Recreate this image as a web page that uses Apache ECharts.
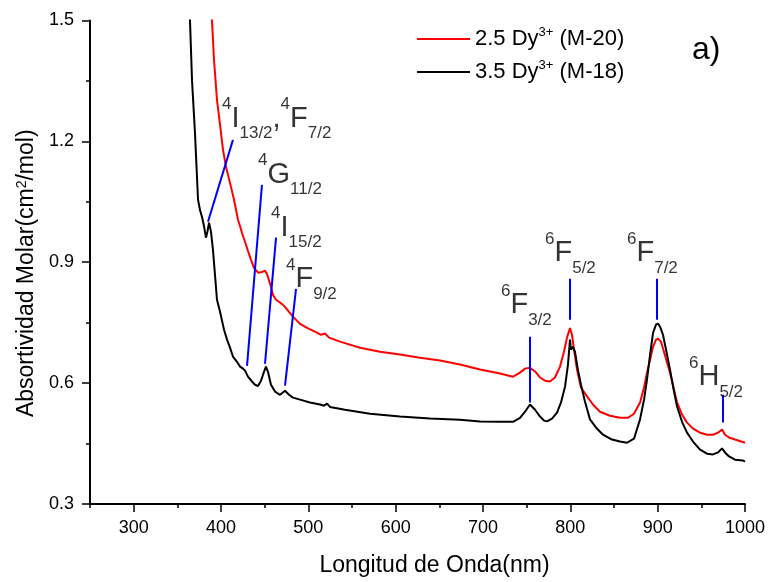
<!DOCTYPE html>
<html>
<head>
<meta charset="utf-8">
<script src="https://cdn.jsdelivr.net/npm/echarts@6/dist/echarts.min.js"></script>
<style>html,body{margin:0;padding:0;background:#fff}#c{width:769px;height:582px}</style>
</head>
<body>
<div id="c"></div>
<script>
// ---- data ----
var seriesNames = ['2.5 Dy3+ (M-20)', '3.5 Dy3+ (M-18)'];

var redWl  = [388.5,389.7,392,395.4,398.9,402.3,405.7,410.3,414.9,419.5,421.8,424.0,427.5,430.9,434.4,437.8,442.4,447.0,450.4,452.7,456.1,459.5,463.0,467.6,472.1,476.7,482.4,490.5,498.5,507.6,514.5,519.1,523.7,536.3,559.2,582.1,605,627.9,650.8,673.7,696.6,719.5,734.4,742.4,748.1,753.8,759.6,765.3,771,776.7,782.4,788.2,792.7,796.2,799.6,801.9,804.2,807.6,812.2,819.1,825.9,833.9,845.4,856.9,866.1,872.9,879.8,884.4,887.8,891.3,894.7,898.1,900.4,903.8,907.2,910.7,914.1,918.7,922.2,927.9,933.6,940.5,948.5,956.5,963.4,969.1,973.7,977.1,981.7,988.6,1000];
var redAbs = [1.54,1.50,1.402,1.303,1.241,1.179,1.137,1.097,1.055,1.005,0.990,0.973,0.951,0.928,0.906,0.886,0.874,0.876,0.879,0.871,0.847,0.819,0.807,0.800,0.792,0.780,0.765,0.747,0.737,0.728,0.720,0.723,0.713,0.703,0.688,0.678,0.671,0.663,0.656,0.646,0.634,0.624,0.616,0.626,0.636,0.638,0.629,0.614,0.606,0.604,0.614,0.641,0.678,0.713,0.737,0.720,0.683,0.634,0.589,0.567,0.547,0.529,0.519,0.514,0.514,0.524,0.552,0.589,0.626,0.658,0.690,0.708,0.710,0.703,0.678,0.651,0.626,0.584,0.552,0.522,0.502,0.487,0.477,0.472,0.472,0.477,0.485,0.472,0.465,0.460,0.452];

var blackWl  = [361.1,364.5,366.8,370.2,373.7,375.9,378.2,380.5,382.8,384.5,386.3,388.5,390.8,393.1,395.4,398.9,403.4,406.9,410.3,413.7,418.3,421.8,425.2,427.5,430.9,435.5,438.9,442.4,445.8,449.2,451.5,453.8,457.2,461.8,467.6,473.3,477.9,482.4,490.5,501.9,513.4,518,521.4,524.8,542,570.6,605,639.3,673.7,696.6,719.5,734.4,742.4,748.1,753.8,759.6,765.3,769.9,773.3,779,784.8,789.3,793.9,797.3,799.6,800.7,803,805.3,808.7,812.2,816.8,822.5,829.3,837.4,847.7,856.9,864.9,872.9,879.8,884.4,887.8,891.3,894.7,898.1,900.4,902.7,906.1,909.6,914.1,918.7,922.2,927.9,933.6,940.5,948.5,956.5,963.4,969.1,973.7,977.1,981.7,988.6,997.7,1000];
var blackAbs = [1.65,1.50,1.352,1.221,1.055,1.030,1.013,0.990,0.961,0.976,0.998,0.976,0.931,0.869,0.807,0.777,0.733,0.708,0.688,0.666,0.653,0.641,0.636,0.631,0.616,0.604,0.596,0.593,0.606,0.628,0.641,0.628,0.596,0.579,0.571,0.581,0.571,0.564,0.559,0.552,0.547,0.544,0.549,0.541,0.534,0.524,0.517,0.512,0.509,0.505,0.504,0.504,0.514,0.529,0.547,0.534,0.517,0.507,0.505,0.512,0.527,0.552,0.591,0.646,0.708,0.683,0.690,0.678,0.633,0.596,0.554,0.510,0.490,0.472,0.460,0.455,0.452,0.462,0.510,0.559,0.609,0.671,0.725,0.745,0.748,0.740,0.720,0.683,0.634,0.579,0.542,0.504,0.477,0.455,0.435,0.425,0.423,0.428,0.438,0.428,0.418,0.410,0.408,0.405];

var xTickLabels = [300,400,500,600,700,800,900,1000];
var xMinorTicks = [250,350,450,550,650,750,850,950];
var yTickLabels = [0.3,0.6,0.9,1.2,1.5];
var yMinorTicks = [0.45,0.75,1.05,1.35];

// transition annotations: [sup, letter, sub] terms
var annotTerms = [
  [['4','I','13/2'],['4','F','7/2']],
  [['4','G','11/2']],
  [['4','I','15/2']],
  [['4','F','9/2']],
  [['6','F','3/2']],
  [['6','F','5/2']],
  [['6','F','7/2']],
  [['6','H','5/2']]
];
var annotX = [401.1,442.4,457.3,474.4,720.6,771.0,864.9,935.9];
var annotY = [1.2565,1.1177,0.9862,0.8573,0.7928,0.9218,0.9218,0.6143];

var leadX1 = [385.1,429.8,450.4,473.3,753.8,799.6,899.3,974.8];
var leadY1 = [1.0004,0.643,0.648,0.594,0.552,0.757,0.757,0.502];
var leadX2 = [413.7,446.9,463.0,485.9,753.8,799.6,899.3,974.8];
var leadY2 = [1.2037,1.092,0.961,0.834,0.715,0.859,0.859,0.571];

// ---- chart ----
var FONT = 'Liberation Sans, Arial, sans-serif';
function pairs(xs, ys){ return xs.map(function(x,i){ return [x, ys[i]]; }); }

var chart = echarts.init(document.getElementById('c'), null, {renderer:'canvas'});
var axisLineStyle = {color:'#000', width:2};
var option = {
  animation: false,
  backgroundColor: '#fff',
  title: {
    text: 'a)', left: 692, top: 34, padding: 0,
    textStyle: {fontFamily: FONT, fontSize: 32, fontWeight: 'normal', color: '#000'}
  },
  legend: {
    data: seriesNames.map(function(n){ return {name: n, icon: 'rect'}; }),
    orient: 'vertical', left: 417, top: 26,
    itemWidth: 53, itemHeight: 2, itemGap: 7, padding: 0,
    formatter: function(n){ return n.replace('3+', '{sup|3+}'); },
    textStyle: {
      fontFamily: FONT, fontSize: 22, color: '#000', lineHeight: 26,
      rich: {sup: {fontFamily: FONT, fontSize: 13, color: '#000', lineHeight: 18, verticalAlign: 'top'}}
    }
  },
  grid: {left: 90, right: 24, top: 20.5, bottom: 77.5, containLabel: false},
  xAxis: [{
    type: 'value', min: 250, max: 1000, position: 'bottom',
    axisLine: {lineStyle: axisLineStyle},
    axisTick: {show: true, length: 8, customValues: xTickLabels, lineStyle: {color:'#000', width: 1.5}},
    axisLabel: {customValues: xTickLabels, fontFamily: FONT, fontSize: 18, color: '#000', margin: 15,
      formatter: function(v){ return String(v); }},
    splitLine: {show: false},
    name: 'Longitud de Onda(nm)', nameLocation: 'middle', nameGap: 50,
    nameTextStyle: {fontFamily: FONT, fontSize: 23, color: '#000', padding: [0,0,0,34]}
  },{
    type: 'value', min: 250, max: 1000, position: 'bottom',
    axisLine: {show: false},
    axisTick: {show: true, length: 4, customValues: xMinorTicks, lineStyle: {color:'#000', width: 1.5}},
    axisLabel: {show: false},
    splitLine: {show: false}
  }],
  yAxis: [{
    type: 'value', min: 0.3, max: 1.5, position: 'left',
    axisLine: {show: true, lineStyle: axisLineStyle},
    axisTick: {show: true, length: 8, customValues: yTickLabels, lineStyle: {color:'#000', width: 1.5}},
    axisLabel: {customValues: yTickLabels, fontFamily: FONT, fontSize: 18, color: '#000', margin: 16,
      formatter: function(v){ return Number(v).toFixed(1); }},
    splitLine: {show: false},
    name: 'Absortividad Molar(cm{sup|2}/mol)', nameLocation: 'middle', nameGap: 52,
    nameTextStyle: {fontFamily: FONT, fontSize: 23, color: '#000', padding: [0,22,0,0],
      rich: {sup: {fontFamily: FONT, fontSize: 14, color: '#000', lineHeight: 20, verticalAlign: 'top'}}}
  },{
    type: 'value', min: 0.3, max: 1.5, position: 'left',
    axisLine: {show: false},
    axisTick: {show: true, length: 4, customValues: yMinorTicks, lineStyle: {color:'#000', width: 1.5}},
    axisLabel: {show: false},
    splitLine: {show: false}
  }],
  series: [
    {
      name: seriesNames[0], type: 'line', xAxisIndex: 0, yAxisIndex: 0,
      data: pairs(redWl, redAbs), showSymbol: false, symbol: 'none', clip: true,
      lineStyle: {color: '#ff0000', width: 2}, itemStyle: {color: '#ff0000'}, z: 3
    },
    {
      name: seriesNames[1], type: 'line', xAxisIndex: 0, yAxisIndex: 0,
      data: pairs(blackWl, blackAbs), showSymbol: false, symbol: 'none', clip: true,
      lineStyle: {color: '#000000', width: 2}, itemStyle: {color: '#000000'}, z: 3
    },
    {
      name: 'leaders', type: 'lines', coordinateSystem: 'cartesian2d', xAxisIndex: 0, yAxisIndex: 0,
      data: leadX1.map(function(x,i){ return {coords: [[x, leadY1[i]], [leadX2[i], leadY2[i]]]}; }),
      lineStyle: {color: '#0000ff', width: 2, opacity: 1}, silent: true, z: 4
    },
    {
      name: 'labels', type: 'scatter', xAxisIndex: 0, yAxisIndex: 0,
      data: pairs(annotX, annotY), symbolSize: 0, silent: true, z: 5,
      label: {
        show: true, position: 'right', distance: 0, color: '#000',
        formatter: function(p){
          return annotTerms[p.dataIndex].map(function(t){
            return '{sup|' + t[0] + '}{m|' + t[1] + '}{sub|' + t[2] + '}';
          }).join('{m|,}');
        },
        rich: {
          sup: {fontFamily: FONT, fontSize: 17, color: '#000', lineHeight: 31, verticalAlign: 'top'},
          m:   {fontFamily: FONT, fontSize: 29, color: '#000', lineHeight: 46},
          sub: {fontFamily: FONT, fontSize: 17, color: '#000', lineHeight: 18, verticalAlign: 'bottom'}
        }
      }
    }
  ]
};
chart.setOption(option);
</script>
</body>
</html>
